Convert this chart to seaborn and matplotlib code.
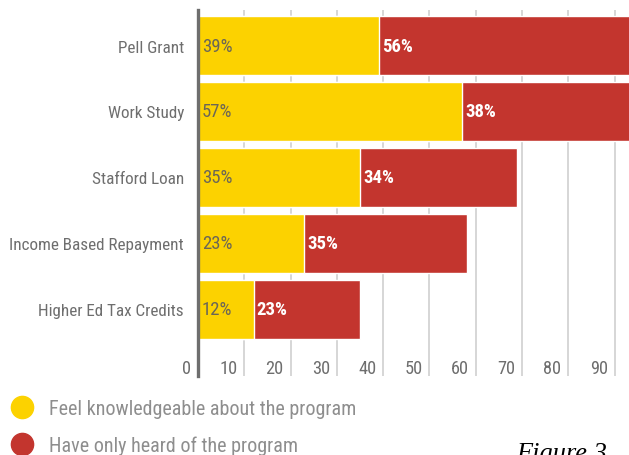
import matplotlib
matplotlib.use("Agg")
import matplotlib.pyplot as plt
import matplotlib.transforms as mtransforms
from matplotlib import font_manager
from matplotlib.lines import Line2D
import pandas as pd
import seaborn as sns

# Survey results: awareness of federal student aid programs (percent)
programs = ["Pell Grant", "Work Study", "Stafford Loan",
            "Income Based Repayment", "Higher Ed Tax Credits"]
knowledgeable = [39, 57, 35, 23, 12]
heard_only = [56, 38, 34, 35, 23]
x_ticks = [0, 10, 20, 30, 40, 50, 60, 70, 80, 90]
legend_labels = ["Feel knowledgeable about the program",
                 "Have only heard of the program"]
caption = "Figure 3"

YELLOW = "#FCD200"
RED = "#C3352E"
TEXT_GRAY = "#6E6E6E"
LEGEND_GRAY = "#8E8E8E"

installed = {f.name for f in font_manager.fontManager.ttflist}
narrow = [n for n in ("Roboto Condensed", "Liberation Sans Narrow",
                      "Open Sans Condensed", "Noto Sans Condensed") if n in installed]
FAMILY = narrow[0] if narrow else "Liberation Sans"

sns.set_theme(style="white")
plt.rcParams["font.family"] = [FAMILY, "DejaVu Sans"]

df = pd.DataFrame({
    "program": programs,
    "knowledgeable": knowledgeable,
    "heard_only": heard_only,
})
df["total"] = df["knowledgeable"] + df["heard_only"]

fig = plt.figure(figsize=(6.29, 4.56), dpi=100)
ax = fig.add_axes([198 / 629, 79 / 456, 431 / 629, 366 / 456])

# stacked horizontal bars: full length in red, knowledgeable share on top in yellow
sns.barplot(data=df, x="total", y="program", order=programs, color=RED,
            width=0.894, saturation=1, ax=ax, zorder=2)
sns.barplot(data=df, x="knowledgeable", y="program", order=programs, color=YELLOW,
            width=0.894, saturation=1, ax=ax, zorder=3)

ax.set_xlim(0, 93.1)
ax.set_ylim(5.008, -0.538)
ax.set_xlabel("")
ax.set_ylabel("")

# vertical grid lines behind the bars
for v in x_ticks[1:]:
    ax.axvline(v, color="#CFCFCF", lw=1.2, zorder=1)

for side in ["top", "right", "bottom"]:
    ax.spines[side].set_visible(False)
ax.spines["left"].set_color("#6E6E6E")
ax.spines["left"].set_linewidth(2.4)
ax.spines["left"].set_zorder(5)

ax.tick_params(axis="y", length=0, pad=10, labelsize=12.3, labelcolor=TEXT_GRAY)
ax.set_xticks(x_ticks)
ax.set_xticklabels([str(t) for t in x_ticks])
ax.tick_params(axis="x", length=0, pad=-12.5, labelsize=13.2, labelcolor=TEXT_GRAY)
shift = mtransforms.ScaledTranslation(-7 / 100, 0, fig.dpi_scale_trans)
for lbl in ax.get_xticklabels():
    lbl.set_horizontalalignment("right")
    lbl.set_transform(lbl.get_transform() + shift)

# value labels on each segment
for i, (k, h) in enumerate(zip(knowledgeable, heard_only)):
    ax.text(0.8, i, f"{k}%", va="center", ha="left", fontsize=13.5,
            color="#6B6657", zorder=6)
    ax.text(k + 0.7, i, f"{h}%", va="center", ha="left", fontsize=13.5,
            color="white", fontweight="bold", zorder=6)

handles = [Line2D([], [], ls="none", marker="o", markersize=16,
                  markerfacecolor=c, markeredgecolor=c) for c in (YELLOW, RED)]
fig.legend(handles, legend_labels, loc="upper left",
           bbox_to_anchor=(10 / 629, 1 - 400 / 456), frameon=False,
           fontsize=14.5, labelcolor=LEGEND_GRAY, handlelength=1.2,
           handletextpad=0.75, labelspacing=0.85, borderpad=0, borderaxespad=0)

fig.text(516 / 629, 1 - 443 / 456, caption, ha="left", va="top",
         fontsize=19, style="italic", family="Liberation Serif", color="black")

fig.savefig("out.png", dpi=100)
